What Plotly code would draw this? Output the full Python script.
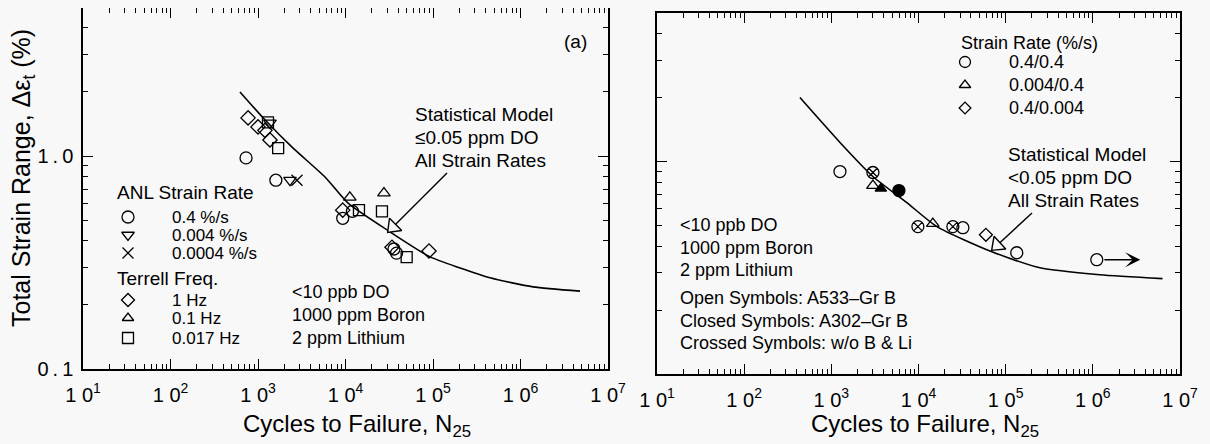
import math
import plotly.graph_objects as go

# ---- left panel: ANL + Terrell data ----
model_a_N = [622, 1200, 2450, 5830, 10700, 29800, 92500, 204000, 448000, 1390000, 4790000]
model_a_eps = [2.0, 1.48, 1.10, 0.797, 0.601, 0.450, 0.336, 0.298, 0.268, 0.243, 0.232]

anl_04_N = [730, 1600, 9300, 12000, 35800, 38300]
anl_04_eps = [0.98, 0.77, 0.51, 0.55, 0.366, 0.35]
anl_004_N = [1370, 2320]
anl_004_eps = [1.43, 0.77]
anl_0004_N = [2790]
anl_0004_eps = [0.77]
terrell_1hz_N = [770, 1000, 1200, 1370, 9300, 34000, 90000]
terrell_1hz_eps = [1.51, 1.37, 1.32, 1.19, 0.557, 0.373, 0.358]
terrell_01hz_N = [11200, 27500]
terrell_01hz_eps = [0.64, 0.67]
terrell_0017hz_N = [1300, 1700, 14250, 26100, 50000]
terrell_0017hz_eps = [1.44, 1.09, 0.557, 0.55, 0.335]

# ---- right panel ----
model_b_N = [436, 1256, 3000, 7360, 16250, 69500, 247000, 1200000, 6300000]
model_b_eps = [2.0, 1.23, 0.85, 0.64, 0.494, 0.376, 0.316, 0.293, 0.281]

open_circ_N = [1256, 32300, 134000, 1110000]
open_circ_eps = [0.897, 0.488, 0.372, 0.345]
cross_circ_N = [3000, 9840, 24800]
cross_circ_eps = [0.888, 0.494, 0.494]
open_tri_N = [3000, 14600]
open_tri_eps = [0.77, 0.51]
closed_tri_N = [3700]
closed_tri_eps = [0.746]
closed_circ_N = [5960]
closed_circ_eps = [0.73]
open_dia_N = [59300]
open_dia_eps = [0.452]
runout_N = [1110000]
runout_end = [3500000]
runout_eps = [0.345]

FONT = "Liberation Sans"
SW, SH = 1210, 444          # screen size
OFF = 8                     # default body margin of the html page
W, H = SW - OFF, SH - OFF   # figure size so that it fills the window
BG = "#f8f8f8"

fig = go.Figure()


def marks(x, y, sym, xa, ya, size=11, color="black"):
    fig.add_trace(go.Scatter(
        x=x, y=y, mode="markers", xaxis=xa, yaxis=ya, showlegend=False,
        marker=dict(symbol=sym, size=size, color=color,
                    line=dict(color="black", width=1.3))))


def curve(x, y, xa, ya):
    fig.add_trace(go.Scatter(
        x=x, y=y, mode="lines", xaxis=xa, yaxis=ya, showlegend=False,
        line=dict(color="black", width=1.6, shape="spline", smoothing=0.6)))


curve(model_a_N, model_a_eps, "x", "y")
marks(anl_04_N, anl_04_eps, "circle-open", "x", "y", 12)
marks(anl_004_N, anl_004_eps, "triangle-down-open", "x", "y", 11)
marks(anl_0004_N, anl_0004_eps, "x-thin-open", "x", "y", 11)
marks(terrell_1hz_N, terrell_1hz_eps, "diamond-open", "x", "y", 11)
marks(terrell_01hz_N, terrell_01hz_eps, "triangle-up-open", "x", "y", 11)
marks(terrell_0017hz_N, terrell_0017hz_eps, "square-open", "x", "y", 11)

curve(model_b_N, model_b_eps, "x2", "y2")
marks(open_circ_N, open_circ_eps, "circle-open", "x2", "y2", 12)
marks(cross_circ_N, cross_circ_eps, "circle-x-open", "x2", "y2", 12)
marks(open_tri_N, open_tri_eps, "triangle-up-open", "x2", "y2", 11)
marks(closed_tri_N, closed_tri_eps, "triangle-up", "x2", "y2", 10)
marks(closed_circ_N, closed_circ_eps, "circle", "x2", "y2", 12)
marks(open_dia_N, open_dia_eps, "diamond-open", "x2", "y2", 10)

# empty traces so the minor-tick overlay axes get drawn
for xa_, ya_ in (("x4", "y4"), ("x5", "y5")):
    fig.add_trace(go.Scatter(x=[], y=[], xaxis=xa_, yaxis=ya_, showlegend=False))

# legend keys + arrow heads drawn on a pixel overlay (screen pixels)
legend_keys = [
    (128, 217, "circle-open", 12), (128, 235, "triangle-down-open", 11),
    (128, 253, "x-thin-open", 11), (128, 300, "diamond-open", 10),
    (128, 318, "triangle-up-open", 10), (128, 338, "square-open", 11),
    (965, 62, "circle-open", 11), (965, 85, "triangle-up-open", 10),
    (965, 108, "diamond-open", 9),
]
for kx, ky, ks, kz in legend_keys:
    marks([kx], [ky], ks, "x3", "y3", kz)


def open_arrow(x0, y0, x1, y1):
    d = math.hypot(x1 - x0, y1 - y0)
    ux, uy = (x1 - x0) / d, (y1 - y0) / d
    hx, hy = x1 - 7 * ux, y1 - 7 * uy
    fig.add_trace(go.Scatter(x=[x0, hx], y=[y0, hy], mode="lines", xaxis="x3", yaxis="y3",
                             showlegend=False, line=dict(color="black", width=1.4)))
    ang = math.degrees(math.atan2(ux, -uy))
    fig.add_trace(go.Scatter(x=[hx], y=[hy], mode="markers", xaxis="x3", yaxis="y3",
                             showlegend=False,
                             marker=dict(symbol="triangle-up", size=15, angle=ang,
                                         color=BG, line=dict(color="black", width=1.4))))


open_arrow(447, 173, 388, 232)
open_arrow(1032, 213, 992, 250)

minor_vals_x = [m * 10 ** d for d in range(1, 7) for m in range(2, 10)]
minor_vals_y = [m * 10 ** d for d in (-1, 0) for m in range(2, 10)]
majors_x = [10 ** d for d in range(1, 8)]
majors_x_txt = ["1 0<sup>%d</sup>" % d for d in range(1, 8)]
X_RANGE = [1, 7]
# left frame top sits at the window's 8px body margin, so its range stops a hair short of 5
Y_RANGE_L = [-1, 0.695]
Y_RANGE_R = [-1, math.log10(5)]

base = dict(type="log", showgrid=False, zeroline=False, automargin=False,
            ticks="inside", tickcolor="black", mirror="ticks",
            tickfont=dict(family=FONT, size=20, color="black"))
main_x = dict(base, range=X_RANGE, tickvals=majors_x, ticktext=majors_x_txt,
              showline=True, linecolor="black", linewidth=1.5,
              ticklen=10, tickwidth=1.3, ticklabelstandoff=7)
main_y = dict(base, tickvals=[0.1, 1],
              ticktext=["0\u2009.\u20091", "1\u2009.\u20090"],
              showline=True, linecolor="black", linewidth=1.5,
              ticklen=10, tickwidth=1.3, ticklabelstandoff=4)
minor_x = dict(base, range=X_RANGE, tickvals=minor_vals_x, showticklabels=False,
               showline=False, ticklen=5, tickwidth=1)
minor_y = dict(base, tickvals=minor_vals_y, showticklabels=False,
               showline=False, ticklen=5, tickwidth=1)


def dx(a, b):
    return [(a - OFF) / W, (b - OFF) / W]


def dy(top, bottom):
    return [max(0, 1 - (bottom - OFF) / H), min(1, 1 - (top - OFF) / H)]


dom_xl = dx(83, 608)
dom_xr = dx(657, 1180)
dom_yl = dy(8, 369)
dom_yr = dy(13, 374)

fig.update_layout(
    width=W, height=H, margin=dict(l=0, r=0, t=0, b=0),
    paper_bgcolor=BG, plot_bgcolor="rgba(0,0,0,0)",
    xaxis=dict(main_x, domain=dom_xl, anchor="y"),
    yaxis=dict(main_y, range=Y_RANGE_L, domain=dom_yl, anchor="x"),
    xaxis4=dict(minor_x, domain=dom_xl, anchor="y4", overlaying="x"),
    yaxis4=dict(minor_y, range=Y_RANGE_L, domain=dom_yl, anchor="x4", overlaying="y"),
    xaxis2=dict(main_x, domain=dom_xr, anchor="y2"),
    yaxis2=dict(main_y, range=Y_RANGE_R, domain=dom_yr, anchor="x2", showticklabels=False),
    xaxis5=dict(minor_x, domain=dom_xr, anchor="y5", overlaying="x2"),
    yaxis5=dict(minor_y, range=Y_RANGE_R, domain=dom_yr, anchor="x5", overlaying="y2"),
    xaxis3=dict(domain=[0, 1], range=[OFF, SW], visible=False, anchor="y3", automargin=False),
    yaxis3=dict(domain=[0, 1], range=[SH, OFF], visible=False, anchor="x3", automargin=False),
    hovermode=False,
)


def txt(x, y, s, size=18, xanchor="left", angle=0):
    fig.add_annotation(x=x, y=y, xref="x3", yref="y3", text=s, showarrow=False,
                       xanchor=xanchor, yanchor="middle", textangle=angle,
                       font=dict(family=FONT, size=size, color="black"))


# axis titles
txt(23, 178, "Total Strain Range, Δε<sub>t</sub> (%)", 25, "center", -90)
txt(357, 425, "Cycles to Failure, N<sub>25</sub>", 24, "center")
txt(925, 425, "Cycles to Failure, N<sub>25</sub>", 24, "center")

# left panel text
txt(575, 41, "(a)", 19, "center")
for i, s in enumerate(["Statistical Model", "≤0.05 ppm DO", "All Strain Rates"]):
    txt(413, 114 + 23 * i, s, 19)
txt(115, 192, "ANL Strain Rate", 19)
for yy, s in zip([217, 235, 253], ["0.4 %/s", "0.004 %/s", "0.0004 %/s"]):
    txt(170, yy, s, 17)
txt(115, 278, "Terrell Freq.", 19)
for yy, s in zip([300, 318, 338], ["1 Hz", "0.1 Hz", "0.017 Hz"]):
    txt(170, yy, s, 17)
for yy, s in zip([292, 315, 338], ["&lt;10 ppb DO", "1000 ppm Boron", "2 ppm Lithium"]):
    txt(290, yy, s, 18)

# right panel text
txt(959, 43, "Strain Rate (%/s)", 18)
for yy, s in zip([62, 85, 108], ["0.4/0.4", "0.004/0.4", "0.4/0.004"]):
    txt(1007, yy, s, 18)
for i, s in enumerate(["Statistical Model", "&lt;0.05 ppm DO", "All Strain Rates"]):
    txt(1006, 154 + 23 * i, s, 19)
for yy, s in zip([225, 248, 270, 298, 321, 343],
                 ["&lt;10 ppb DO", "1000 ppm Boron", "2 ppm Lithium",
                  "Open Symbols: A533–Gr B", "Closed Symbols: A302–Gr B",
                  "Crossed Symbols: w/o B &amp; Li"]):
    txt(678, yy, s, 18)

# run-out arrow on the right panel
for n0, n1, e in zip(runout_N, runout_end, runout_eps):
    fig.add_annotation(x=math.log10(n1), y=math.log10(e), ax=math.log10(n0) + 0.07,
                       ay=math.log10(e), xref="x2", yref="y2", axref="x2", ayref="y2",
                       showarrow=True, arrowhead=3, arrowsize=1.8, arrowwidth=1.4,
                       arrowcolor="black", text="")

fig.write_html("out.html", post_script="document.body.style.background='%s';" % BG)
